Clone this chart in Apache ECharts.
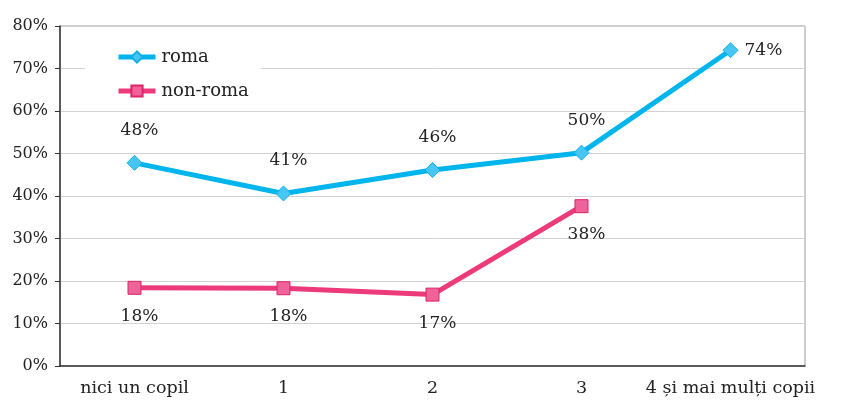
<!DOCTYPE html>
<html>
<head>
<meta charset="utf-8">
<script src="https://cdn.jsdelivr.net/npm/echarts@6/dist/echarts.min.js"></script>
<style>
  html, body { margin: 0; padding: 0; background: #fff; }
  #chart { width: 843px; height: 400px; }
</style>
</head>
<body>
<div id="chart"></div>
<script>
// date
const categories = ['nici un copil', '1', '2', '3', '4 și mai mulți copii'];
const romaValues = [47.8, 40.6, 46.1, 50.2, 74.3];
const nonRomaValues = [18.4, 18.3, 16.8, 37.6, null];
const yTicks = [0, 80, 10]; // min, max, interval

const fontFamily = '"DejaVu Serif", "Liberation Serif", serif';

const chart = echarts.init(document.getElementById('chart'), null, { renderer: 'canvas' });

const pct = p => Math.round(p.value) + '%';

// ultimul punct roma are eticheta in dreapta
const romaData = romaValues.map((v, i) => i === romaValues.length - 1
  ? { value: v, label: { position: 'right', distance: 6, offset: [0, 0] } }
  : v);

chart.setOption({
  animation: false,
  textStyle: { fontFamily: fontFamily },
  grid: {
    left: 60, right: 38, top: 26, bottom: 34,
    show: true, borderColor: '#9a9a9a', borderWidth: 1
  },
  legend: {
    orient: 'vertical',
    left: 85, top: 38,
    padding: [10, 12, 10, 31],
    backgroundColor: '#fff',
    itemWidth: 37, itemHeight: 14, itemGap: 16,
    lineStyle: { width: 5 },
    textStyle: { fontSize: 18, color: '#222', fontFamily: fontFamily, padding: [0, 0, 0, 1] },
    data: ['roma', 'non-roma']
  },
  xAxis: {
    type: 'category',
    data: categories,
    boundaryGap: true,
    axisLine: { lineStyle: { color: '#333', width: 1.5 } },
    axisTick: { length: 5, lineStyle: { color: '#333' } },
    axisLabel: { color: '#222', fontSize: 17.5, margin: 13, interval: 0, fontFamily: fontFamily },
    splitLine: { show: false }
  },
  yAxis: {
    type: 'value',
    min: yTicks[0], max: yTicks[1], interval: yTicks[2],
    axisLine: { show: true, lineStyle: { color: '#333', width: 1.5 } },
    axisTick: { show: true, length: 5, lineStyle: { color: '#333' } },
    axisLabel: { color: '#222', fontSize: 16, margin: 12, formatter: '{value}%', fontFamily: fontFamily },
    splitLine: { lineStyle: { color: '#d2d2d2', width: 1 } }
  },
  series: [
    {
      name: 'roma',
      type: 'line',
      data: romaData,
      z: 3,
      symbol: 'diamond',
      symbolSize: 15,
      lineStyle: { color: '#00b4ec', width: 5 },
      itemStyle: { color: '#45c6f3', borderColor: '#14aee6', borderWidth: 1 },
      label: {
        show: true, position: 'top', distance: 16, offset: [5, 0],
        formatter: pct, color: '#222', fontSize: 17, fontFamily: fontFamily
      }
    },
    {
      name: 'non-roma',
      type: 'line',
      data: nonRomaValues,
      z: 2,
      symbol: 'rect',
      symbolSize: 13,
      lineStyle: { color: '#ec3a7a', width: 5 },
      itemStyle: { color: '#f0629a', borderColor: '#dd2468', borderWidth: 1 },
      label: {
        show: true, position: 'bottom', distance: 13, offset: [5, 0],
        formatter: pct, color: '#222', fontSize: 17, fontFamily: fontFamily
      }
    }
  ]
});
</script>
</body>
</html>
